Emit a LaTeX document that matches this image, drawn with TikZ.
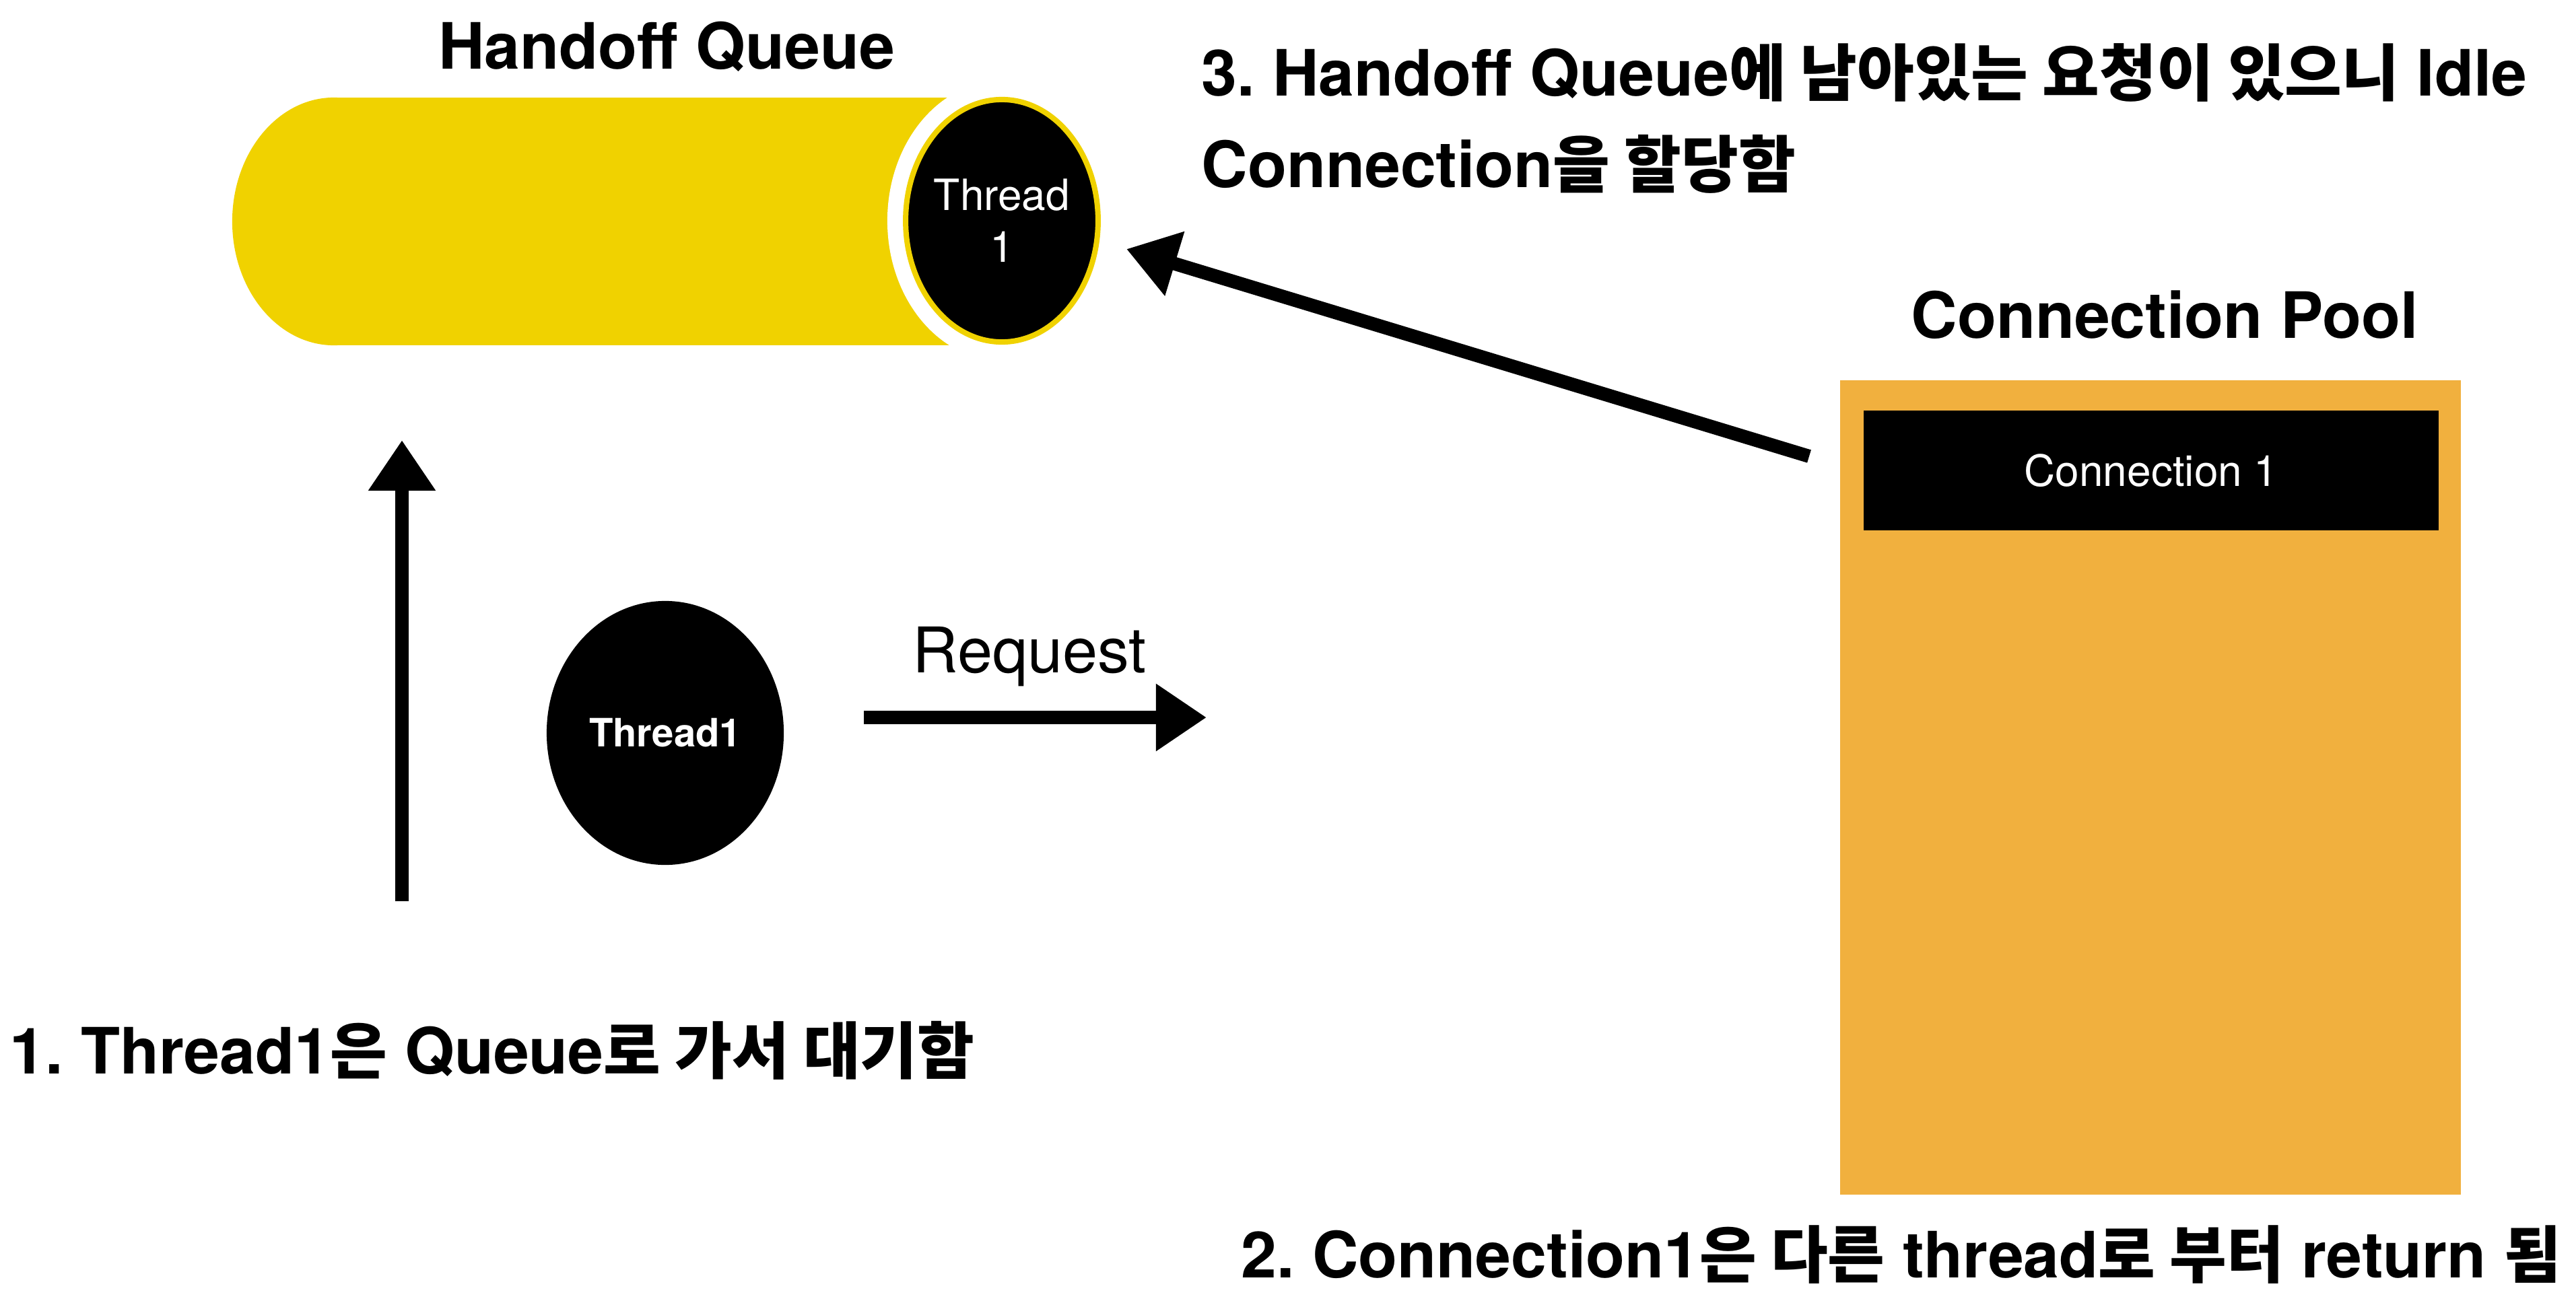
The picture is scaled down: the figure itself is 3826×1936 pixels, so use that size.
\documentclass[tikz,border=0pt]{standalone}
\usepackage{fontspec}
\setmainfont{TeX Gyre Heros}
\newfontfamily\krfont[Scale=0.97]{Noto Sans CJK KR}
\newcommand{\hangul}[1]{{\krfont #1}}
\usetikzlibrary{arrows.meta,positioning,shapes.geometric,backgrounds}
\definecolor{queueyellow}{RGB}{240,210,0}
\definecolor{poolorange}{RGB}{241,176,62}
\frenchspacing

\begin{document}
\begin{tikzpicture}[
  x=0.01cm, y=-0.01cm,
  % === Node styles ===
  title/.style={font=\fontsize{27pt}{32pt}\selectfont\bfseries, inner sep=0pt, anchor=base},
  steptext/.style={font=\fontsize{27pt}{38.4pt}\selectfont\bfseries, inner sep=0pt, anchor=base west, align=left},
  qcapnode/.style={
    ellipse, fill=black, draw=queueyellow, line width=0.08cm,
    inner sep=0pt, minimum width=2.84cm, minimum height=3.6cm,
    text=white, align=center, font=\fontsize{18.2pt}{21.9pt}\selectfont
  },
  threadnode/.style={
    ellipse, fill=black, inner sep=0pt,
    minimum width=3.52cm, minimum height=3.92cm,
    text=white, font=\fontsize{16.5pt}{20pt}\selectfont\bfseries
  },
  poolbox/.style={rectangle, fill=poolorange, inner sep=0pt, minimum width=9.22cm, minimum height=12.1cm},
  connbar/.style={
    rectangle, fill=black, inner sep=0pt,
    minimum width=8.54cm, minimum height=1.78cm,
    text=white, font=\fontsize{18.2pt}{22pt}\selectfont
  },
  % === Arrow styles ===
  arr/.style={-{Triangle[length=0.75cm, width=0.95cm]}, line width=0.2cm, black},
  % === Label styles ===
  arrlbl/.style={font=\fontsize{26.6pt}{30pt}\selectfont, inner sep=0pt, anchor=base},
]
\useasboundingbox (0,0) rectangle (3826,1936);

% =============================================
% Handoff Queue
% =============================================
\node[title] (qtitle) at (990,102) {Handoff Queue};
\node[qcapnode] (qcap) at (1488,328) {Thread\\1};

\begin{pgfonlayer}{background}
  % queue body, cut off from its cap by a white gap
  \fill[queueyellow] (496,329) ellipse [x radius=1.51cm, y radius=1.84cm];
  \fill[queueyellow] (496,145) rectangle (1488,513);
  \fill[white] (qcap.center) ellipse [x radius=1.70cm, y radius=2.08cm];
\end{pgfonlayer}

% =============================================
% Thread1
% =============================================
\node[threadnode] (thread) at (988,1089) {Thread1};
\node[arrlbl] (reqlbl) at (1529,999) {Request};

% =============================================
% Connection Pool
% =============================================
\node[title] (pooltitle) at (3215,502) {Connection Pool};
\node[poolbox] (pool) at (3194,1170) {};
\node[connbar] (conn) at (3195,699) {Connection 1};

% =============================================
% Steps
% =============================================
\node[steptext] (step1) at (14,1595) {1. Thread1\hangul{은} Queue\hangul{로 가서 대기함}};
\node[steptext] (step2) at (1843,1898) {2. Connection1\hangul{은 다른} thread\hangul{로 부터} return \hangul{됨}};
% (base of a two-line node is its last line)
\node[steptext] (step3) at (1784,278) {3. Handoff Queue\hangul{에 남아있는 요청이 있으니} Idle\\Connection\hangul{을 할당함}};

% =============================================
% Arrows
% =============================================
\coordinate (waitfrom) at (597,1339);
\coordinate (waitto) at (597,654);
\coordinate (reqfrom) at (1283,1066);
\coordinate (reqto) at (1792,1066);
\coordinate (retfrom) at (2687,678);
\coordinate (retto) at (1673,370);

\draw[arr] (waitfrom) -- (waitto);
\draw[arr] (reqfrom) -- (reqto);
\draw[arr] (retfrom) -- (retto);

\end{tikzpicture}
\end{document}
